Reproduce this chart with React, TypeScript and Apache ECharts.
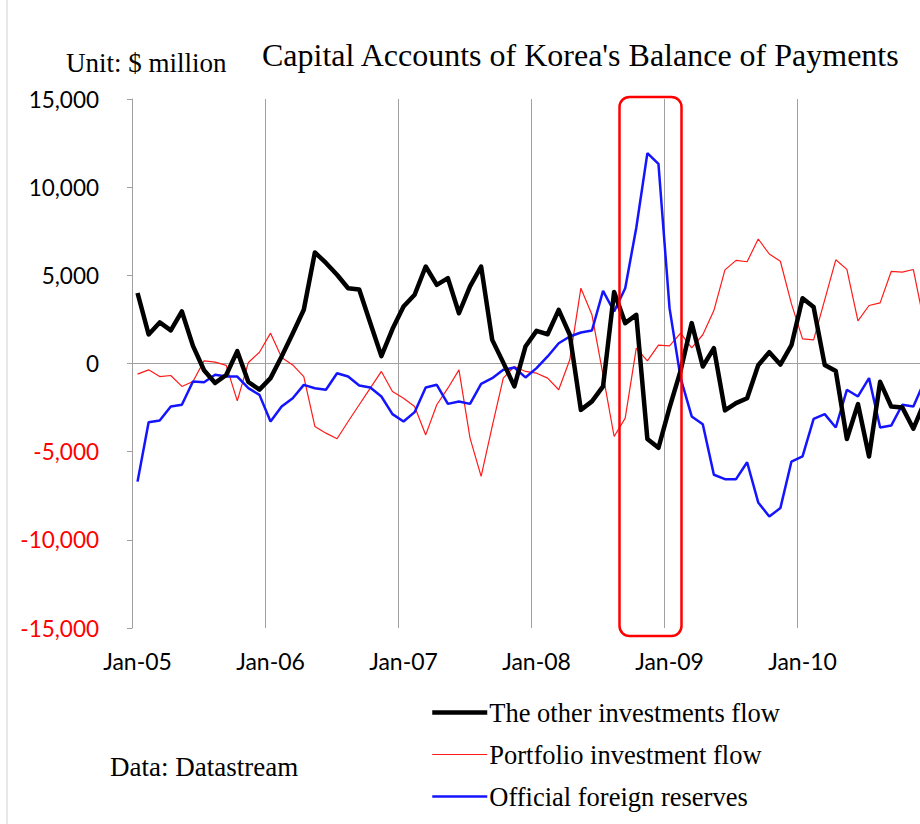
import React, { useEffect, useRef } from "react";
import * as echarts from "echarts";

const years = ["05", "06", "07", "08", "09", "10"];
const monthNames = ["Jan", "Feb", "Mar", "Apr", "May", "Jun", "Jul", "Aug", "Sep", "Oct", "Nov", "Dec"];
const categories: string[] = [];
years.forEach((y) => monthNames.forEach((m) => categories.push(`${m}-${y}`)));

const otherInvestments = [
  4000, 1650, 2330, 1880, 2950, 1000, -380, -1100, -650, 700, -1050, -1480,
  -830, 400, 1700, 3050, 6300, 5700, 5030, 4270, 4200, 2300, 420, 1950,
  3230, 3900, 5500, 4460, 4840, 2850, 4370, 5500, 1340, 50, -1300, 960,
  1850, 1660, 3040, 1630, -2630, -2150, -1300, 4050, 2290, 2760, -4280, -4780,
  -2500, -400, 2290, -170, 870, -2660, -2250, -1970, -100, 640, -60, 1040,
  3700, 3200, -80, -430, -4280, -2300, -5270, -1040, -2440, -2490, -3700, -2200,
];

const portfolioInvestment = [
  -600, -360, -740, -680, -1300, -1020, 150, 80, -110, -2120, 60, 640,
  1720, 340, -80, -740, -3570, -3950, -4270, -3290, -2340, -1400, -450, -1590,
  -1970, -2440, -4050, -2340, -1400, -360, -4230, -6400, -3570, -830, -170, -450,
  -550, -830, -1490, 210, 4270, 2760, -640, -4140, -3100, 870, 150, 1040,
  1000, 1720, 890, 1630, 3000, 5310, 5850, 5770, 7060, 6210, 5800, 3380,
  1400, 1340, 3610, 5880, 5340, 2420, 3290, 3440, 5220, 5180, 5330, 2200,
];

const officialReserves = [
  -6700, -3330, -3230, -2440, -2340, -1020, -1060, -640, -740, -740, -1400, -1780,
  -3290, -2440, -1970, -1210, -1400, -1490, -550, -740, -1250, -1360, -1870, -2870,
  -3290, -2760, -1360, -1210, -2290, -2150, -2290, -1150, -830, -360, -230, -790,
  -260, 400, 1150, 1530, 1760, 1870, 4120, 2950, 4270, 7700, 11930, 11320,
  3140, -830, -3000, -3440, -6310, -6560, -6560, -5600, -7880, -8680, -8200, -5560,
  -5270, -3140, -2870, -3630, -1490, -1870, -830, -3630, -3520, -2340, -2440, -1000,
];

const seriesNames = ["The other investments flow", "Portfolio investment flow", "Official foreign reserves"];
const yTicks = [-15000, -10000, -5000, 0, 5000, 10000, 15000];

const GRID = "#a0a0a0";
const SERIF = "'Liberation Serif', 'Times New Roman', serif";
const SANS = "Lato, 'Noto Sans', sans-serif";

export default function App() {
  const ref = useRef<HTMLDivElement>(null);

  useEffect(() => {
    if (!ref.current) return;
    const chart = echarts.init(ref.current, null, { renderer: "svg" });
    const option = {
      animation: false,
      backgroundColor: "#ffffff",
      grid: { left: 132, top: 99, width: 798, height: 529, containLabel: false },
      xAxis: {
        type: "category",
        data: categories,
        boundaryGap: true,
        axisLine: { show: false },
        axisTick: { show: false, interval: 11 },
        axisLabel: { interval: 11, margin: 21, fontFamily: SANS, fontSize: 23, color: "#000" },
        splitLine: { show: true, interval: 11, lineStyle: { color: GRID, width: 1 } },
      },
      yAxis: {
        type: "value",
        min: yTicks[0],
        max: yTicks[yTicks.length - 1],
        interval: 5000,
        axisLine: { show: true, lineStyle: { color: GRID, width: 1 } },
        axisTick: { show: true, length: 5, lineStyle: { color: GRID } },
        splitLine: {
          show: true,
          lineStyle: {
            color: yTicks.map((t) => (t === 0 ? GRID : "rgba(0,0,0,0)")),
            width: 1,
          },
        },
        axisLabel: {
          margin: 33,
          fontFamily: SANS,
          fontSize: 22.5,
          formatter: (v: number) => v.toLocaleString("en-US"),
          color: (v: any) => (Number(v) < 0 ? "#ff0000" : "#000000"),
        },
      },
      legend: {
        orient: "vertical",
        left: 430,
        top: 699,
        itemWidth: 55,
        itemHeight: 14,
        itemGap: 15,
        padding: 0,
        textStyle: { fontFamily: SERIF, fontSize: 26.5, color: "#000", padding: [0, 0, 0, -3] },
        data: [
          { name: seriesNames[0], lineStyle: { width: 4.5 } },
          { name: seriesNames[1], lineStyle: { width: 1.2 } },
          { name: seriesNames[2], lineStyle: { width: 2.5 } },
        ],
        itemStyle: { opacity: 0 },
      },
      series: [
        {
          name: seriesNames[0],
          type: "line",
          data: otherInvestments,
          symbol: "none",
          showSymbol: false,
          color: "#000000",
          lineStyle: { color: "#000000", width: 4.5, join: "round" },
          z: 3,
        },
        {
          name: seriesNames[1],
          type: "line",
          data: portfolioInvestment,
          symbol: "none",
          showSymbol: false,
          color: "#ff1a1a",
          lineStyle: { color: "#ff1a1a", width: 1.2 },
          z: 2,
        },
        {
          name: seriesNames[2],
          type: "line",
          data: officialReserves,
          symbol: "none",
          showSymbol: false,
          color: "#1414ff",
          lineStyle: { color: "#1414ff", width: 2.5 },
          z: 2,
        },
      ],
      graphic: [
        {
          type: "line",
          shape: { x1: 7, y1: 0, x2: 7, y2: 824 },
          style: { stroke: "#d0d0d0", lineWidth: 1 },
        },
        {
          type: "text",
          x: 262,
          y: 55,
          style: {
            text: "Capital Accounts of Korea's Balance of Payments",
            fontFamily: SERIF,
            fontSize: 32,
            fill: "#000",
            verticalAlign: "middle",
          },
        },
        {
          type: "text",
          x: 66,
          y: 63,
          style: { text: "Unit: $ million", fontFamily: SERIF, fontSize: 27, fill: "#000", verticalAlign: "middle" },
        },
        {
          type: "text",
          x: 110,
          y: 767,
          style: { text: "Data: Datastream", fontFamily: SERIF, fontSize: 27, fill: "#000", verticalAlign: "middle" },
        },
        {
          type: "rect",
          shape: { x: 619.5, y: 97, width: 62, height: 539, r: 10 },
          style: { fill: "none", stroke: "#ff0000", lineWidth: 2.5 },
          z: 100,
        },
      ],
    };
    chart.setOption(option as any);
    return () => chart.dispose();
  }, []);

  return (
    <div
      style={{ position: "fixed", left: 0, top: 0, width: 920, height: 824, overflow: "hidden", background: "#fff" }}
    >
      <div ref={ref} style={{ width: 960, height: 824 }} />
    </div>
  );
}
